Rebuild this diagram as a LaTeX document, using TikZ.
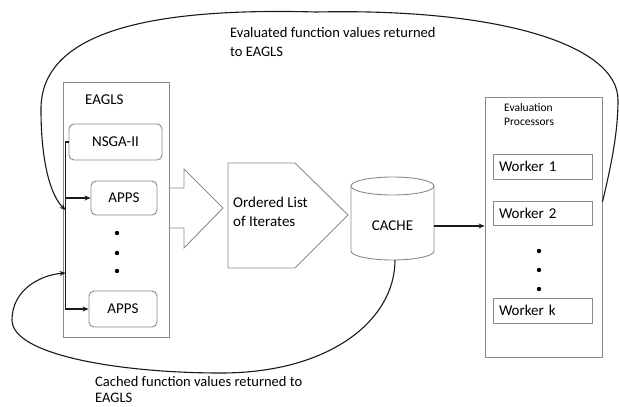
\documentclass[tikz,border=0pt]{standalone}
\usepackage{fontspec}
\setmainfont{Carlito}
\usetikzlibrary{arrows.meta,calc,positioning}
\definecolor{boxgray}{HTML}{8A8A8A}
\definecolor{linedark}{HTML}{1A1A1A}

\begin{document}
\begin{tikzpicture}[x=1pt,y=-1pt,>={Stealth[length=6pt,width=5pt]},
  outer/.style={draw=boxgray,line width=0.9pt,inner sep=0pt},
  algobox/.style={draw=boxgray,line width=0.9pt,rounded corners=5pt,inner sep=0pt,font=\fontsize{15}{17}\selectfont},
  workbox/.style={draw=boxgray,line width=0.9pt,inner xsep=6pt,inner ysep=0pt,text width=87pt,align=left,font=\fontsize{15}{17}\selectfont},
  lbl/.style={font=\fontsize{14.5}{19}\selectfont,align=left,anchor=west,inner sep=0pt},
  flow/.style={linedark,line width=1.1pt}]
\useasboundingbox (0,0) rectangle (619,407);
\node[outer,minimum width=106pt,minimum height=255pt] (eagls) at (116,209.5) {};
\node[lbl,font=\fontsize{15}{17}\selectfont] (eaglslbl) at (85,100) {EAGLS};
\node[algobox,minimum width=93pt,minimum height=36pt] (nsga) at (115.5,142) {NSGA-II};
\node[algobox,minimum width=66pt,minimum height=34pt] (apps1) at (124,198) {APPS};
\node[algobox,minimum width=68pt,minimum height=36pt] (apps2) at (123,309) {APPS};
\foreach \y in {233,253,271} \fill (117,\y) circle (2.2pt);
\coordinate (bustop) at ($(nsga.west)+(-3,0)$);
\coordinate (busin1) at (bustop |- 0,210);
\coordinate (busin2) at (bustop |- 0,273);
\draw[flow,->] (nsga.west) -- (bustop) |- (apps2.west);
\draw[flow,->] (bustop |- apps1.west) -- (apps1.west);
\draw[draw=boxgray,line width=0.9pt] (eagls.east |- 0,188) -- (184,188) -- (184,169) -- (223,208) -- (184,248) -- (184,228) -- (eagls.east |- 0,228);
\draw[draw=boxgray,line width=0.9pt] (228,163) -- (295,163) -- (348,215) -- (295,268) -- (228,268) -- cycle;
\node[lbl,font=\fontsize{15}{19}\selectfont] (olist) at (233,212) {Ordered List\\of Iterates};
\draw[draw=boxgray,line width=0.9pt] (392.5,186) ellipse [x radius=41.5pt,y radius=9pt];
\draw[draw=boxgray,line width=0.9pt] (351,186) -- (351,251) arc[start angle=180,end angle=360,x radius=41.5pt,y radius=9pt] -- (434,186);
\node[minimum width=83pt,inner sep=0pt,font=\fontsize{15}{17}\selectfont] (cache) at (392.5,226) {CACHE};
\coordinate (cachebot) at (395,260);
\node[outer,minimum width=117pt,minimum height=260pt] (eval) at (543.5,227) {};
\node[lbl,font=\fontsize{11.5}{14}\selectfont] (evallbl) at (504,115) {Evaluation\\Processors};
\node[workbox,minimum height=25pt] (w1) at (542.5,166.5) {Worker 1};
\node[workbox,minimum height=24pt] (w2) at (542.5,213) {Worker 2};
\node[workbox,minimum height=25pt] (wk) at (542.5,310.5) {Worker k};
\foreach \y in {251,270,289} \fill (539,\y) circle (2.2pt);
\draw[flow,->] (cache.east) -- (cache.east -| eval.west);
\coordinate (evout) at (eval.east |- 0,202);
\draw[flow,->] (evout) .. controls (610,170) and (618,135) .. (618,100)
  .. controls (618,45) and (500,8) .. (316,12)
  .. controls (170,8) and (40,25) .. (41,110)
  .. controls (41,160) and (50,195) .. (busin1);
\draw[flow,->] (cachebot) .. controls (395,320) and (330,373) .. (221,373)
  .. controls (120,373) and (12,355) .. (12,320)
  .. controls (12,290) and (40,275) .. (busin2);
\node[lbl] (toplbl) at (230,42) {Evaluated function values returned\\to EAGLS};
\node[lbl,font=\fontsize{14.5}{16}\selectfont] (botlbl) at (95,390) {Cached function values returned to\\EAGLS};
\end{tikzpicture}
\end{document}
